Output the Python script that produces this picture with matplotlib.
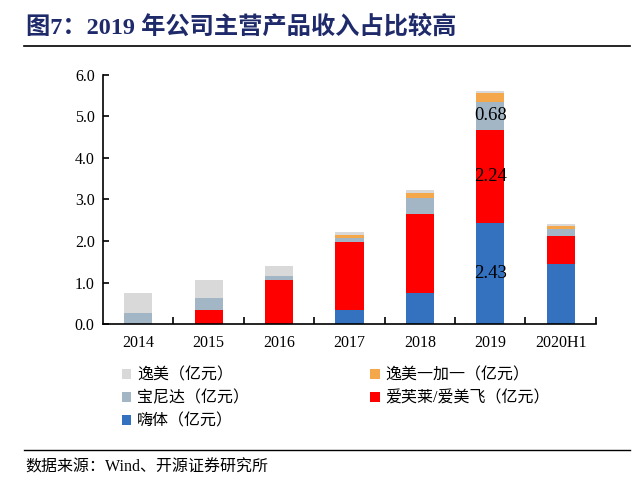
import numpy as np
import matplotlib
matplotlib.use('Agg')
import matplotlib.pyplot as plt

plt.rcParams['font.family'] = ['Noto Sans CJK SC', 'DejaVu Sans']
serif_cjk = ['Liberation Serif', 'Noto Sans CJK SC']

years = ['2014', '2015', '2016', '2017', '2018', '2019', '2020H1']
haiti = [0, 0, 0, 0.34, 0.75, 2.43, 1.44]
aifulai = [0, 0.35, 1.05, 1.63, 1.90, 2.24, 0.68]
baonida = [0.27, 0.28, 0.10, 0.11, 0.38, 0.68, 0.17]
yimei_yjy = [0, 0, 0, 0.07, 0.12, 0.22, 0.08]
yimei = [0.48, 0.44, 0.26, 0.06, 0.07, 0.04, 0.03]
labels_2019 = ['2.43', '2.24', '0.68']

names = ['嗨体（亿元）', '爱芙莱/爱美飞（亿元）', '宝尼达（亿元）', '逸美一加一（亿元）', '逸美（亿元）']
colors = ['#3472C0', '#FF0000', '#A3B6C6', '#F5A84B', '#D9D9D9']
series = [haiti, aifulai, baonida, yimei_yjy, yimei]

fig = plt.figure(figsize=(6.4, 4.83), dpi=100)
ax = fig.add_axes([0.161, 0.329, 0.770, 0.516])

x = np.arange(len(years))
bottom = np.zeros(len(years))
for vals, c, n in zip(series, colors, names):
    ax.bar(x, vals, 0.4, bottom=bottom, color=c, label=n)
    bottom += np.array(vals)

# labels on 2019
i19 = years.index('2019')
bot = 0
for k, lab in enumerate(labels_2019):
    v = series[k][i19]
    ax.text(i19, bot + v / 2, lab, ha='center', va='center', fontsize=13.5,
            family='Liberation Serif', color='black')
    bot += v

ax.set_xlim(-0.5, len(years) - 0.5)
ax.set_ylim(0, 6)
ax.set_yticks(np.arange(0, 6.1, 1.0))
ax.set_yticklabels(['%.1f' % v for v in np.arange(0, 6.1, 1.0)], family='Liberation Serif', fontsize=11.5)
ax.set_xticks(x)
ax.set_xticklabels(years, family='Liberation Serif', fontsize=11.5)
ax.set_xticks(np.arange(0.5, len(years), 1.0), minor=True)
ax.tick_params(axis='x', which='major', length=0, pad=8)
ax.tick_params(axis='x', which='minor', direction='in', length=5, width=1.2)
ax.tick_params(axis='y', direction='in', length=4, width=1.2, pad=6)
for s in ['top', 'right']:
    ax.spines[s].set_visible(False)
for s in ['left', 'bottom']:
    ax.spines[s].set_linewidth(1.2)

order = [4, 2, 0, 3, 1]
h, l = ax.get_legend_handles_labels()
leg = fig.legend([h[i] for i in order], [l[i] for i in order], ncol=2, frameon=False,
                 loc='upper left', bbox_to_anchor=(0.168, 0.268),
                 prop={'family': serif_cjk, 'size': 11.5},
                 handlelength=0.6, handleheight=0.6, handletextpad=0.35,
                 labelspacing=0.42, columnspacing=7.6)

fig.text(0.04, 0.945, '图7：2019 年公司主营产品收入占比较高', fontsize=17.5, fontweight='bold',
         color='#1F2A6B', va='center', family=serif_cjk)
fig.add_artist(plt.Line2D([0.038, 0.985], [0.905, 0.905], color='black', lw=1.2))
fig.add_artist(plt.Line2D([0.038, 0.985], [0.068, 0.068], color='black', lw=1.0))
fig.text(0.04, 0.033, '数据来源：Wind、开源证券研究所', fontsize=11.5, color='black',
         va='center', family=serif_cjk)

fig.savefig('out.png', dpi=100)
